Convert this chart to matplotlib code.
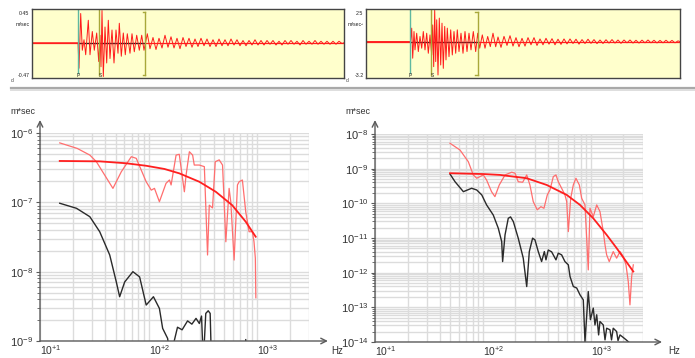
import math
import matplotlib
matplotlib.use('Agg')
import matplotlib.pyplot as plt
from matplotlib.lines import Line2D
from matplotlib.ticker import LogLocator, NullFormatter, FixedLocator

plt.rcParams['font.family'] = ['Liberation Sans', 'DejaVu Sans']

# ---------------- data: seismograms (time s, amplitude) ----------------
left_trace_t = [0.0, 4.6, 4.70, 4.87, 5.03, 5.2, 5.37, 5.63, 5.8, 6.03, 6.23, 6.47, 6.67, 6.8, 6.9, 7.0,
                7.13, 7.3, 7.47, 7.63, 7.8, 8.0, 8.2, 8.4, 8.6, 8.73, 8.93, 9.13, 9.33, 9.53, 9.8, 10.0,
                10.23, 10.47, 10.73, 10.97, 11.2, 11.53, 11.8,
                12.1, 12.4, 12.7, 13.0, 13.3, 13.6, 13.9, 14.2, 14.5, 14.8, 15.1, 15.4, 15.7, 16.0, 16.3,
                16.6, 16.9, 17.2, 17.5, 17.8, 18.1, 18.4, 18.7, 19.0, 19.3, 19.6, 19.9, 20.2, 20.5, 20.8,
                21.1, 21.4, 21.7, 22.0, 22.3, 22.6, 22.9, 23.2, 23.5, 23.8, 24.1, 24.4, 24.7, 25.0, 25.3,
                25.6, 25.9, 26.2, 26.5, 26.8, 27.1, 27.4, 27.7, 28.0, 28.3, 28.6, 28.9, 29.2, 29.5, 29.8,
                30.1, 30.4, 30.7, 31.0, 31.2]
left_trace_v = [0.0, 0.0, -0.34, 0.39, -0.10, 0.04, -0.16, 0.30, -0.16, 0.15, -0.10, 0.13, -0.25, 0.10, -0.32, 0.43,
                -0.45, 0.21, -0.27, 0.30, -0.21, 0.17, -0.27, 0.17, -0.14, 0.26, -0.18, 0.13, -0.16, 0.12, -0.14, 0.12,
                -0.12, 0.10, -0.10, 0.10, -0.10, 0.12, -0.08,
                0.07, -0.09, 0.06, -0.07, 0.10, -0.06, 0.08, -0.07, 0.06, -0.08, 0.07, -0.05, 0.06, -0.06, 0.05,
                -0.05, 0.06, -0.04, 0.05, -0.05, 0.04, -0.05, 0.05, -0.04, 0.04, -0.04, 0.05, -0.03, 0.04, -0.04,
                0.03, -0.04, 0.03, -0.03, 0.04, -0.03, 0.03, -0.03, 0.03, -0.02, 0.03, -0.03, 0.02, -0.03, 0.03,
                -0.02, 0.03, -0.02, 0.02, -0.03, 0.03, -0.02, 0.02, -0.02, 0.03, -0.02, 0.02, -0.02, 0.02, -0.02,
                0.02, -0.02, 0.02, -0.01, 0.0]

right_trace_t = [0.0, 4.45, 4.57, 4.67, 4.8, 4.9, 5.07, 5.23, 5.4, 5.57, 5.73, 5.9, 6.07, 6.23, 6.4, 6.57,
                 6.67, 6.77, 6.87, 6.97, 7.07, 7.2, 7.33, 7.47, 7.6, 7.73, 7.87, 8.0, 8.13, 8.3, 8.47, 8.63,
                 8.8, 8.97, 9.13, 9.3, 9.5, 9.7, 9.9, 10.1, 10.3, 10.5, 10.73, 10.97, 11.17, 11.37, 11.63,
                 11.9, 12.17, 12.43, 12.7, 12.97,
                 13.2, 13.5, 13.8, 14.1, 14.4, 14.7, 15.0, 15.3, 15.6, 15.9, 16.2, 16.5, 16.8, 17.1, 17.4,
                 17.7, 18.0, 18.3, 18.6, 18.9, 19.2, 19.5, 19.8, 20.1, 20.4, 20.7, 21.0, 21.3, 21.6, 21.9,
                 22.2, 22.5, 22.8, 23.1, 23.4, 23.7, 24.0, 24.3, 24.6, 24.9, 25.2, 25.5, 25.8, 26.1, 26.4,
                 26.7, 27.0, 27.3, 27.6, 27.9, 28.2, 28.5, 28.8, 29.1, 29.4, 29.7, 30.0, 30.3, 30.6, 30.9,
                 31.2, 31.4]
right_trace_v = [0.0, 0.0, 1.03, -1.28, 0.77, -0.64, 0.64, -0.77, 0.39, -0.51, 0.77, -0.64, 0.64, -0.90, 0.51, -1.03,
                 1.28, -1.93, 2.40, -1.54, 1.67, -2.57, 1.80, -1.80, 1.41, -2.06, 1.16, -1.41, 1.03, -1.16, 0.90, -1.03,
                 0.77, -0.90, 0.90, -0.77, 0.64, -0.90, 0.77, -0.77, 0.64, -0.64, 0.77, -0.77, 0.64, -0.51, 0.51,
                 -0.51, 0.39, -0.39, 0.64, -0.40,
                 0.35, -0.45, 0.40, -0.30, 0.45, -0.35, 0.30, -0.40, 0.25, -0.35, 0.30, -0.25, 0.30, -0.30, 0.20,
                 -0.25, 0.25, -0.20, 0.22, -0.25, 0.18, -0.22, 0.20, -0.18, 0.20, -0.15, 0.18, -0.20, 0.15, -0.15,
                 0.18, -0.14, 0.15, -0.16, 0.12, -0.15, 0.14, -0.12, 0.15, -0.12, 0.12, -0.14, 0.12, -0.10, 0.12,
                 -0.12, 0.10, -0.12, 0.11, -0.10, 0.12, -0.10, 0.10, -0.11, 0.09, -0.10, 0.10, -0.09, 0.09, -0.10,
                 0.05, 0.0]

left_marks_t = [4.6, 6.7, 11.3]      # P, S, window end
right_marks_t = [4.4, 6.5, 11.2]
left_amp_labels = ['0.45', 'm/sec', '-0.47']
right_amp_labels = ['2.5', 'm/sec\u00b2', '-3.2']

# ---------------- data: spectra ----------------
left_freq_obs = [15.2, 22, 28.8, 33.1, 47.0, 56.2, 69.4, 77.1, 95.2, 106, 113.5, 126, 145, 156, 161.5, 179.5,
                 192, 214, 222, 238, 255, 264, 294, 327, 350, 363, 389, 412, 448, 481, 516, 553, 573, 615,
                 660, 684, 733, 787, 845, 906, 938, 965, 975]
left_amp_obs = [7.2e-7, 6.0e-7, 4.8e-7, 3.85e-7, 1.59e-7, 2.77e-7, 4.55e-7, 4.31e-7, 1.98e-7, 1.5e-7, 1.59e-7,
                1.02e-7, 1.88e-7, 2.1e-7, 1.78e-7, 4.8e-7, 4.93e-7, 1.42e-7, 2.48e-7, 5.37e-7, 4.8e-7, 3.45e-7,
                3.45e-7, 3.27e-7, 1.74e-8, 9.1e-8, 8.3e-8, 3.85e-7, 4.1e-7, 3.45e-7, 2.7e-8, 1.59e-7, 1.02e-7,
                1.47e-8, 1.78e-7, 1.98e-7, 2.1e-7, 7.3e-8, 3.77e-8, 3.77e-8, 2.7e-8, 1.56e-8, 4.2e-9]
left_freq_model = [15.2, 35.5, 62, 95, 140, 192, 294, 417, 590, 787, 972]
left_amp_model = [3.95e-7, 3.9e-7, 3.66e-7, 3.37e-7, 3.03e-7, 2.62e-7, 1.98e-7, 1.42e-7, 9.1e-8, 5.25e-8, 3.19e-8]
left_freq_noise = [15.2, 21.7, 28.8, 35.5, 43.9, 50.5, 54.2, 60.3, 71.8, 82.8, 95.2, 111, 126, 135, 150, 160,
                   172, 185, 204, 229, 251, 274, 294, 308, 320, 337, 355, 370, 380, 770, 787, 800]
left_amp_noise = [9.7e-8, 8.2e-8, 6.2e-8, 3.77e-8, 1.74e-8, 7.1e-9, 4.35e-9, 7.1e-9, 1.0e-8, 8.4e-9, 3.3e-9,
                  4.35e-9, 2.95e-9, 1.52e-9, 1.09e-9, 5e-10, 9.8e-10, 1.58e-9, 1.45e-9, 1.95e-9, 1.75e-9,
                  2.12e-9, 1.79e-9, 2.29e-9, 5e-10, 2.5e-9, 2.73e-9, 2.5e-9, 5e-10, 5e-10, 1.05e-9, 5e-10]

right_freq_obs = [49.5, 61.2, 73.1, 81.3, 87.5, 93.8, 100.7, 108, 120, 129, 141.5, 160, 184.5, 198, 212, 233,
                  254, 272, 292, 318, 344, 367, 394, 417, 448, 474, 498, 535, 574, 596, 617, 649, 686, 726,
                  747, 780, 820, 880, 944, 979, 1050, 1130, 1211, 1300, 1349, 1397, 1476, 1607, 1728, 1857,
                  1991, 2109, 2215, 2296, 2381, 2466]
right_amp_obs = [5.4e-9, 3.46e-9, 1.59e-9, 6.6e-10, 5.3e-10, 5.9e-10, 6.6e-10, 4.7e-10, 2.17e-10, 1.56e-10,
                 3.39e-10, 6.6e-10, 7.9e-10, 7.4e-10, 4.2e-10, 4.06e-10, 6.6e-10, 3.39e-10, 1.12e-10, 6.5e-11,
                 8.0e-11, 7.2e-11, 1.75e-10, 2.43e-10, 5.9e-10, 6.6e-10, 4.2e-10, 2.72e-10, 1.75e-10, 1.12e-10,
                 1.53e-11, 1.4e-10, 3.39e-10, 5.3e-10, 4.4e-10, 3.39e-10, 1.4e-10, 9.0e-11, 1.2e-12, 7.2e-11,
                 4.1e-11, 9.0e-11, 5.8e-11, 1.53e-11, 6.3e-12, 3.26e-12, 2.09e-12, 4.06e-12, 2.62e-12, 4.06e-12,
                 2.91e-12, 1.68e-12, 5.5e-13, 1.18e-13, 7.7e-13, 1.68e-12]
right_freq_model = [49.5, 100.7, 143.6, 254, 389, 596, 791, 1050, 1397, 1728, 2120, 2466]
right_amp_model = [7.4e-10, 7.0e-10, 6.6e-10, 5.3e-10, 3.39e-10, 1.75e-10, 9.0e-11, 3.7e-11, 1.23e-11,
                   5.1e-12, 2.09e-12, 1.08e-12]
right_freq_noise = [49.5, 55.1, 65.8, 78.5, 87.5, 97.4, 108, 124.5, 138.6, 149, 152, 160, 171.4, 180, 191,
                    212, 236, 254, 268.5, 288, 303, 325, 349, 370, 383, 402, 432, 474, 498, 535, 574, 617,
                    640, 686, 738, 791, 849, 880, 944, 988, 1050, 1089, 1130, 1177, 1211, 1300, 1349, 1397,
                    1500, 1550, 1607, 1728, 1780, 1857, 1991, 2120, 2230]
right_amp_noise = [7.0e-10, 4.2e-10, 2.17e-10, 2.72e-10, 2.43e-10, 1.75e-10, 9.0e-11, 4.6e-11, 1.91e-11,
                   7.9e-12, 2.09e-12, 1.23e-11, 3.7e-11, 4.06e-11, 2.97e-11, 9.9e-12, 2.62e-12, 3.98e-13,
                   4.06e-12, 9.9e-12, 8.8e-12, 4.06e-12, 2.09e-12, 4.06e-12, 2.34e-12, 4.5e-12, 4.0e-12,
                   2.34e-12, 3.65e-12, 3.26e-12, 2.09e-12, 1.68e-12, 7.7e-13, 4.0e-13, 3.6e-13, 2.3e-13,
                   1.64e-13, 1.0e-14, 2.85e-13, 4.4e-14, 9.5e-14, 3.1e-14, 6.1e-14, 1.6e-14, 3.9e-14, 3.1e-14,
                   1.15e-14, 2.5e-14, 2.25e-14, 1.15e-14, 2.5e-14, 2.0e-14, 1.1e-14, 1.6e-14, 1.35e-14,
                   1.15e-14, 1.0e-14]

left_yticks = [1e-9, 1e-8, 1e-7, 1e-6]
right_yticks = [1e-14, 1e-13, 1e-12, 1e-11, 1e-10, 1e-9, 1e-8]
x_ticks = [10, 100, 1000]
x_ticklabels = ['+1', '+2', '+3']

# ---------------- figure ----------------
W, H = 695, 358
fig = plt.figure(figsize=(W / 100, H / 100), dpi=100)


def fr(x0, y0, x1, y1):
    return [x0 / W, 1 - y1 / H, (x1 - x0) / W, (y1 - y0) / H]


obs_c = '#ff6e6e'
model_c = '#ff1f1f'
noise_c = '#2a2a2a'
grid_c = '#dcdcdc'
axis_c = '#5a5a5a'
text_c = '#333333'


def seismo(rect, t, v, ylim, marks, labels, tmax):
    ax = fig.add_axes(rect)
    ax.set_facecolor('#ffffcc')
    ax.plot([0, tmax], [0, 0], color='#ff2020', lw=0.9)
    ax.plot([marks[0], marks[2]], [0, 0], color='#222222', lw=0.9)
    ax.plot(t, v, color='#ff1a1a', lw=0.7)
    ymin, ymax = ylim
    span = ymax - ymin
    ax.plot([marks[0]] * 2, [ymin + 0.07 * span, ymax], color='#5fb8a0', lw=1.0)
    ax.plot([marks[1]] * 2, [ymin + 0.04 * span, ymax], color='#a8a83a', lw=1.0)
    ax.plot([marks[2]] * 2, [ymin + 0.04 * span, ymax - 0.05 * span], color='#a8a83a', lw=1.0)
    ax.plot([marks[2] - 0.25, marks[2]], [ymax - 0.05 * span] * 2, color='#a8a83a', lw=1.0)
    ax.plot([marks[2] - 0.25, marks[2]], [ymin + 0.04 * span] * 2, color='#a8a83a', lw=1.0)
    ax.text(marks[0], ymin + 0.03 * span, 'P', fontsize=3.5, ha='center', va='center', color='#222')
    ax.text(marks[1] + 0.1, ymin + 0.03 * span, 'S', fontsize=3.5, ha='center', va='center', color='#222')
    ax.set_xlim(0, tmax)
    ax.set_ylim(ymin, ymax)
    ax.set_xticks([])
    ax.set_yticks([])
    for s in ax.spines.values():
        s.set_color('#444444')
        s.set_linewidth(1.0)
    ax.text(-0.008, 0.94, labels[0], transform=ax.transAxes, fontsize=3.8, ha='right', va='center', color='#222')
    ax.text(-0.008, 0.78, labels[1], transform=ax.transAxes, fontsize=3.8, ha='right', va='center', color='#222')
    ax.text(-0.008, 0.04, labels[2], transform=ax.transAxes, fontsize=3.8, ha='right', va='center', color='#222')
    return ax


seismo(fr(32, 9, 344, 78), left_trace_t, left_trace_v, (-0.47, 0.45), left_marks_t, left_amp_labels, 31.2)
seismo(fr(366, 9, 680, 78), right_trace_t, right_trace_v, (-2.8, 2.5), right_marks_t, right_amp_labels, 31.4)
fig.text(11 / W, 1 - 80 / H, 'd', fontsize=3.5, color='#444', va='center')
fig.text(346 / W, 1 - 80 / H, 'd', fontsize=3.5, color='#444', va='center')

# separator bar
fig.add_artist(Line2D([11 / W, 1.0], [1 - 87.5 / H] * 2, color='#a9a9a9', lw=1.6))
fig.add_artist(Line2D([11 / W, 1.0], [1 - 89.5 / H] * 2, color='#dedede', lw=1.4))


def spectrum(rect, yticks, obs_f, obs_a, mod_f, mod_a, noi_f, noi_a, ytop_frac, xend_frac):
    ax = fig.add_axes(rect)
    ax.set_xscale('log')
    ax.set_yscale('log')
    ax.set_xlim(10, 3000)
    ax.set_ylim(yticks[0], yticks[-1])
    ax.xaxis.set_major_locator(FixedLocator(x_ticks))
    ax.xaxis.set_minor_locator(LogLocator(base=10, subs=range(2, 10), numticks=20))
    ax.yaxis.set_major_locator(FixedLocator(yticks))
    ax.yaxis.set_minor_locator(LogLocator(base=10, subs=range(2, 10), numticks=30))
    ax.xaxis.set_minor_formatter(NullFormatter())
    ax.yaxis.set_minor_formatter(NullFormatter())
    ax.grid(which='both', color=grid_c, lw=1.0)
    ax.set_axisbelow(True)
    for s in ax.spines.values():
        s.set_visible(False)
    ax.set_xticklabels([r'$\mathregular{10^{%s}}$' % l for l in x_ticklabels], color=text_c, fontsize=7.5)
    for lab in ax.get_xticklabels():
        lab.set_horizontalalignment('left')
    ax.set_yticklabels([r'$\mathregular{10^{%d}}$' % round(math.log10(v)) for v in yticks],
                       color=text_c, fontsize=8)
    ax.tick_params(axis='x', which='both', length=0, pad=1.5)
    ax.tick_params(axis='y', which='major', length=3, color=axis_c, pad=2)
    ax.tick_params(axis='y', which='minor', length=2, color=axis_c)
    ax.plot(noi_f, noi_a, color=noise_c, lw=1.0)
    ax.plot(obs_f, obs_a, color=obs_c, lw=0.9)
    ax.plot(mod_f, mod_a, color=model_c, lw=1.3)
    ax.annotate('', xy=(0, ytop_frac), xytext=(0, 0), xycoords='axes fraction',
                arrowprops=dict(arrowstyle='->', color=axis_c, lw=1.0, shrinkA=0, shrinkB=0),
                annotation_clip=False)
    ax.annotate('', xy=(xend_frac, 0), xytext=(0, 0), xycoords='axes fraction',
                arrowprops=dict(arrowstyle='->', color=axis_c, lw=1.0, shrinkA=0, shrinkB=0),
                annotation_clip=False)
    return ax


spectrum(fr(40, 133, 308.8, 341), left_yticks, left_freq_obs, left_amp_obs, left_freq_model, left_amp_model,
         left_freq_noise, left_amp_noise, 1.0625, 1.071)
spectrum(fr(375, 134, 642.5, 342), right_yticks, right_freq_obs, right_amp_obs, right_freq_model,
         right_amp_model, right_freq_noise, right_amp_noise, 1.067, 1.073)

fig.text(23 / W, 1 - 112 / H, 'm*sec', fontsize=6.5, color=text_c, ha='center', va='center')
fig.text(358 / W, 1 - 112 / H, 'm*sec', fontsize=6.5, color=text_c, ha='center', va='center')
fig.text(337 / W, 1 - 351 / H, 'Hz', fontsize=7, color=text_c, ha='center', va='center')
fig.text(674 / W, 1 - 351 / H, 'Hz', fontsize=7, color=text_c, ha='center', va='center')

fig.savefig('out.png', dpi=100)
